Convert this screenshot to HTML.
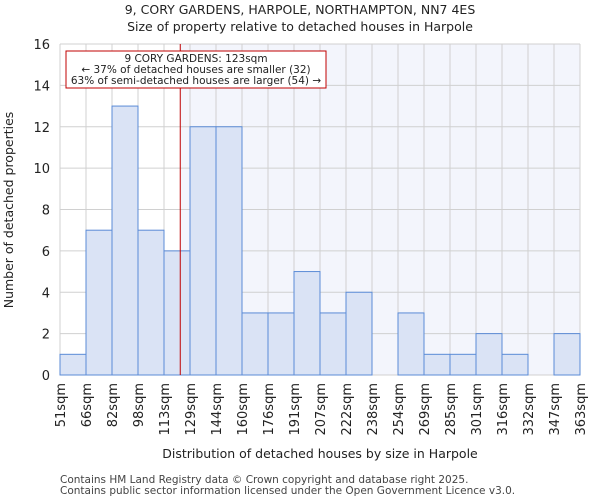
<!DOCTYPE html>
<html><head><meta charset="utf-8"><style>
body{margin:0;background:#fff;font-family:"DejaVu Sans","Liberation Sans",sans-serif;}
</style></head><body>
<svg width="600" height="500" xmlns="http://www.w3.org/2000/svg" font-family="DejaVu Sans, Liberation Sans, sans-serif">
<g id="root"></g>
</svg>
<script>
const categories=["51sqm","66sqm","82sqm","98sqm","113sqm","129sqm","144sqm","160sqm","176sqm","191sqm","207sqm","222sqm","238sqm","254sqm","269sqm","285sqm","301sqm","316sqm","332sqm","347sqm","363sqm"];
const counts=[1,7,13,7,6,12,12,3,3,5,3,4,0,3,1,1,2,1,0,2];
const yTicks=[0,2,4,6,8,10,12,14,16];
const markerBin=4+10/16;
const X0=60,X1=580,Y0=375,Y1=44,YMAX=16;
const bw=(X1-X0)/counts.length;
const xs=i=>X0+i*bw;
const ys=v=>Y0-(v/YMAX)*(Y0-Y1);
const root=document.getElementById('root');
const NS="http://www.w3.org/2000/svg";
function mk(t,a,p){const e=document.createElementNS(NS,t);for(const k in a)e.setAttribute(k,a[k]);(p||root).appendChild(e);return e;}
const mx=xs(markerBin);
let e=mk('rect',{x:mx,y:Y1,width:X1-mx,height:Y0-Y1,fill:'#f3f5fc'});


for(let i=0;i<=counts.length;i++){e=mk('line',{x1:xs(i),x2:xs(i),y1:Y1,y2:Y0,stroke:'#d0d0d0','stroke-width':1});

}
yTicks.forEach(v=>{e=mk('line',{x1:X0,x2:X1,y1:ys(v),y2:ys(v),stroke:'#d0d0d0','stroke-width':1});


const t=mk('text',{x:X0-10,y:ys(v)+5,'text-anchor':'end','font-size':13,fill:'#222'});t.textContent=v;

});
counts.forEach((c,i)=>{if(c<=0)return;const r=mk('rect',{x:xs(i),y:ys(c),width:bw,height:Y0-ys(c),fill:'#dae3f5',stroke:'#5b8bd6','stroke-width':1});

});
categories.forEach((c,i)=>{const t=mk('text',{transform:`translate(${xs(i)+5},${Y0+8}) rotate(-90)`,'text-anchor':'end','font-size':13,fill:'#222'});t.textContent=c;

});
e=mk('line',{x1:mx,x2:mx,y1:Y1,y2:Y0,stroke:'#c00000','stroke-width':1});


e=mk('rect',{x:66,y:51,width:260,height:37,fill:'#fff',stroke:'#c00000','stroke-width':1});


["9 CORY GARDENS: 123sqm","← 37% of detached houses are smaller (32)","63% of semi-detached houses are larger (54) →"].forEach((s,i)=>{const t=mk('text',{x:196,y:62+i*11,'text-anchor':'middle','font-size':10.5,fill:'#222'});t.textContent=s;

});
function txt(s,a,n){const t=mk('text',Object.assign({fill:'#222','text-anchor':'middle'},a));t.textContent=s;}
txt("9, CORY GARDENS, HARPOLE, NORTHAMPTON, NN7 4ES",{x:300,y:14,'font-size':12.5},'chart-title');
txt("Size of property relative to detached houses in Harpole",{x:300,y:31,'font-size':12.5},'chart-subtitle');
txt("Distribution of detached houses by size in Harpole",{x:320,y:458,'font-size':12.5},'x-axis-title');
txt("Number of detached properties",{transform:'translate(13,210) rotate(-90)','font-size':12.5},'y-axis-title');
txt("Contains HM Land Registry data © Crown copyright and database right 2025.",{x:60,y:483,'font-size':10.5,'text-anchor':'start',fill:'#444'},'footer-line-1');
txt("Contains public sector information licensed under the Open Government Licence v3.0.",{x:60,y:494,'font-size':10.5,'text-anchor':'start',fill:'#444'},'footer-line-2');
</script>
</body></html>
